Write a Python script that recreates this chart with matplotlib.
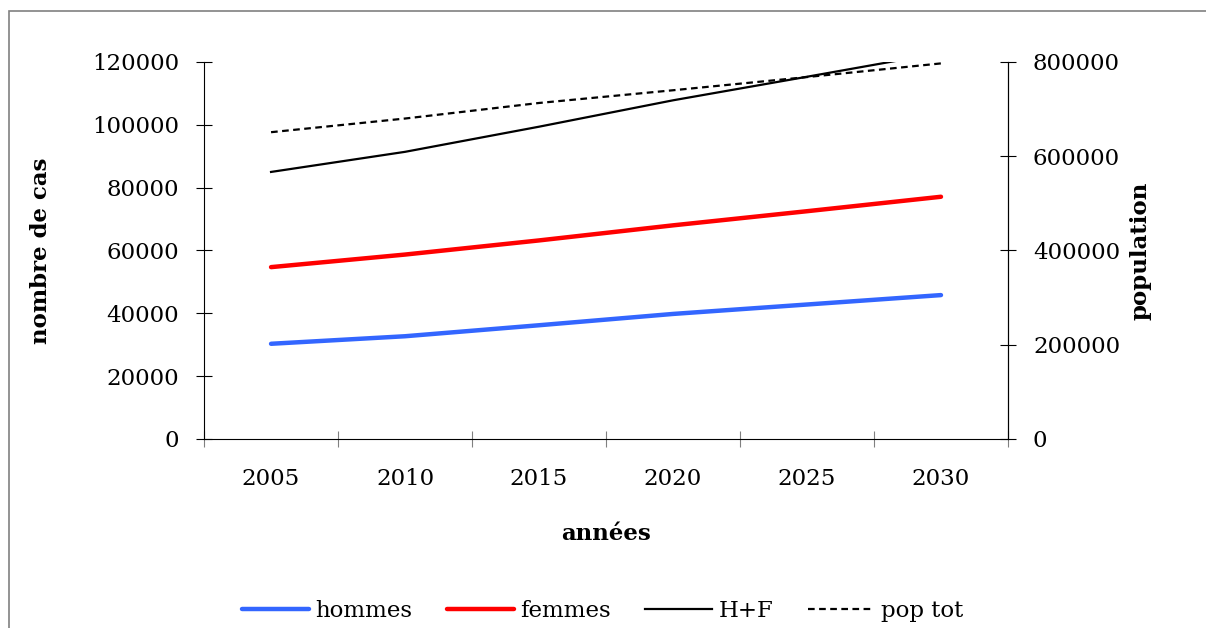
import matplotlib
matplotlib.use("Agg")
import matplotlib.pyplot as plt
from matplotlib.patches import Rectangle

plt.rcParams["font.family"] = ["DejaVu Serif"]

YEARS   = ["2005", "2010", "2015", "2020", "2025", "2030"]
HOMMES  = [30300, 32700, 36200, 39800, 42800, 45800]
FEMMES  = [54700, 58700, 63200, 68000, 72500, 77100]
HF      = [85000, 91400, 99400, 107800, 115300, 122900]
POP_TOT = [651000, 680000, 713000, 740000, 768000, 797000]

C_HOMMES = "#3366FF"
C_FEMMES = "#FF0000"
FS = 16.5

fig = plt.figure(figsize=(12.06, 6.28), dpi=100)
ax = fig.add_axes([0.1692, 0.3010, 0.6666, 0.6003])
ax2 = ax.twinx()

x = list(range(len(YEARS)))
l1, = ax.plot(x, HOMMES, color=C_HOMMES, lw=3.2, solid_capstyle="round", label="hommes")
l2, = ax.plot(x, FEMMES, color=C_FEMMES, lw=3.2, solid_capstyle="round", label="femmes")
l3, = ax.plot(x, HF, color="black", lw=1.6, label="H+F")
l4, = ax2.plot(x, POP_TOT, color="black", lw=1.6, ls=(0, (3, 2)), label="pop tot")

ax.set_xlim(-0.5, len(YEARS) - 0.5)
ax.set_ylim(0, 120000)
ax2.set_ylim(0, 800000)
ax.set_yticks(range(0, 120001, 20000))
ax2.set_yticks(range(0, 800001, 200000))

# category boundaries as major ticks, labels on minor ticks at centers
ax.set_xticks([i - 0.5 for i in range(len(YEARS) + 1)])
ax.set_xticklabels([])
ax.set_xticks(x, YEARS, minor=True)
ax.tick_params(axis="x", which="major", direction="inout", length=12, color="#808080")
ax.tick_params(axis="x", which="minor", length=0, pad=21, labelsize=FS)
ax.tick_params(axis="y", direction="inout", length=12, pad=12, labelsize=FS)
ax2.tick_params(axis="y", direction="inout", length=12, pad=12, labelsize=FS)

for a in (ax, ax2):
    a.spines["top"].set_visible(False)
    a.set_facecolor("none")
ax2.spines["left"].set_visible(False)
ax2.spines["bottom"].set_visible(False)

ax.set_xlabel("années", fontsize=FS, fontweight="bold", labelpad=24)
ax.set_ylabel("nombre de cas", fontsize=FS, fontweight="bold", labelpad=29)
ax2.set_ylabel("population", fontsize=FS, fontweight="bold", labelpad=7)

fig.legend([l1, l2, l3, l4], ["hommes", "femmes", "H+F", "pop tot"],
           loc="center", bbox_to_anchor=(0.5, 0.027), ncol=4, frameon=False,
           fontsize=FS, handlelength=2.9, handletextpad=0.3, columnspacing=1.5)

# chart area frame (runs off the right and bottom edges)
fig.add_artist(Rectangle((9 / 1206, -0.05), 1.2, 1 - 11 / 628 + 0.05,
                         transform=fig.transFigure, fill=False,
                         edgecolor="#808080", lw=1.2))

fig.savefig("out.png", dpi=100)
